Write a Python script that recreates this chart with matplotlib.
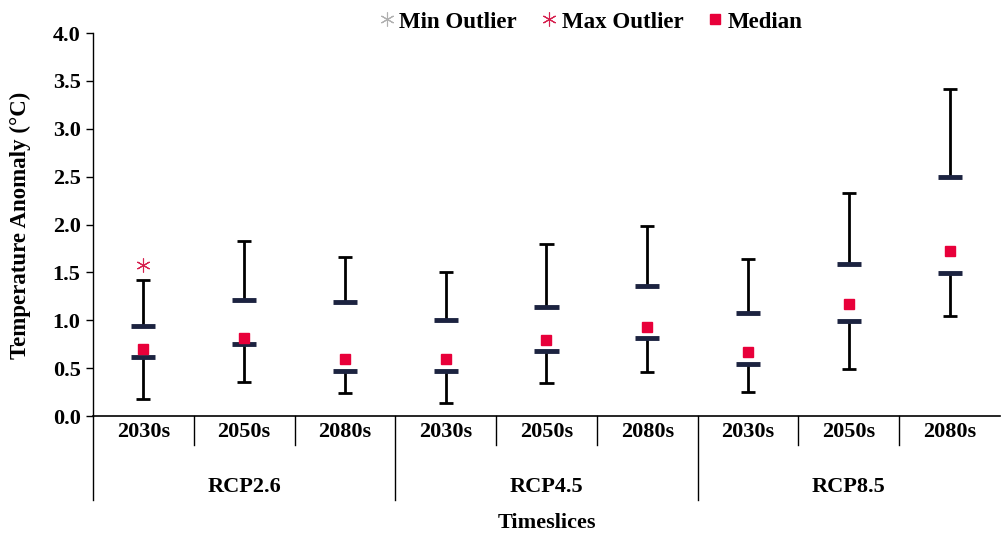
import numpy as np
import matplotlib
matplotlib.use("Agg")
import matplotlib.pyplot as plt

plt.rcParams["font.family"] = ["Liberation Serif", "DejaVu Serif"]
plt.rcParams["font.weight"] = "bold"

# data
scenarios = ["RCP2.6", "RCP4.5", "RCP8.5"]
timeslices = ["2030s", "2050s", "2080s"]
whisker_min = [0.18, 0.36, 0.24, 0.14, 0.34, 0.46, 0.25, 0.49, 1.04]
q1 = [0.62, 0.75, 0.47, 0.47, 0.68, 0.81, 0.54, 0.99, 1.49]
median = [0.70, 0.81, 0.60, 0.60, 0.79, 0.93, 0.67, 1.17, 1.72]
q3 = [0.94, 1.21, 1.19, 1.00, 1.14, 1.36, 1.08, 1.59, 2.50]
whisker_max = [1.42, 1.83, 1.66, 1.50, 1.80, 1.98, 1.64, 2.33, 3.41]
max_outlier_pos = [0]
max_outlier_val = [1.58]

NAVY = "#1c2340"
RED = "#e8003a"
FS = 16

W, H = 1003, 539
fig = plt.figure(figsize=(W / 100, H / 100), dpi=100, facecolor="white")
ax = fig.add_axes([93 / W, 1 - 416 / H, (1000 - 93) / W, (416 - 33) / H])

n = len(q1)
x = np.arange(n) + 0.5

# whiskers
ax.vlines(x, q3, whisker_max, color="black", lw=2, zorder=2)
ax.vlines(x, whisker_min, q1, color="black", lw=2, zorder=2)
ax.hlines(whisker_max, x - 0.07, x + 0.07, color="black", lw=2, zorder=2)
ax.hlines(whisker_min, x - 0.07, x + 0.07, color="black", lw=2, zorder=2)
# quartile bars
ax.hlines(q3, x - 0.12, x + 0.12, color=NAVY, lw=3.5, zorder=3)
ax.hlines(q1, x - 0.12, x + 0.12, color=NAVY, lw=3.5, zorder=3)

ax.plot(x, median, ls="none", marker="s", ms=7, color=RED, zorder=4)
ax.plot(x[max_outlier_pos], max_outlier_val, ls="none", marker=(6, 2, 0),
        ms=10, mew=0.8, color="#d6204e", zorder=4)

# legend handles
h_min, = ax.plot([], [], ls="none", marker=(6, 2, 0), ms=10, mew=0.8,
                 color="#b0b0b0", label="Min Outlier")
h_max, = ax.plot([], [], ls="none", marker=(6, 2, 0), ms=10, mew=0.8,
                 color="#d6204e", label="Max Outlier")
h_med, = ax.plot([], [], ls="none", marker="s", ms=7, color=RED, label="Median")
fig.legend(handles=[h_min, h_max, h_med], loc="center",
           bbox_to_anchor=(589 / W, 1 - 22 / H), ncol=3, frameon=False,
           handletextpad=0.05, columnspacing=0.9, handlelength=1.0,
           prop=dict(family="Liberation Serif", weight="bold", size=16.5))

ax.set_xlim(0, n)
ax.set_ylim(0, 4.0)
ticks = np.arange(0, 4.01, 0.5)
ax.set_yticks(ticks)
ax.set_yticklabels([f"{v:.1f}" for v in ticks], fontsize=FS, fontweight="bold")
ax.tick_params(axis="y", direction="out", length=5, width=1, pad=4)
ax.set_xticks([])
for s in ["top", "right"]:
    ax.spines[s].set_visible(False)
ax.spines["left"].set_linewidth(1)
ax.spines["bottom"].set_linewidth(1.2)

trans = ax.get_xaxis_transform()
labels = [t for _ in scenarios for t in timeslices]
for i, lab in enumerate(labels):
    ax.text(x[i], -0.042, lab, transform=trans, ha="center", va="center",
            fontsize=FS, fontweight="bold")
for i, sc in enumerate(scenarios):
    ax.text(i * 3 + 1.5, -0.185, sc, transform=trans, ha="center",
            va="center", fontsize=FS, fontweight="bold")
for k in range(0, n):
    bottom = -0.219 if k % 3 == 0 else -0.076
    ax.plot([k, k], [0, bottom], transform=trans, color="black", lw=1,
            clip_on=False)

ax.text(0.5, -0.28, "Timeslices", transform=ax.transAxes, ha="center",
        va="center", fontsize=FS, fontweight="bold")
fig.text(20 / W, 1 - 225 / H, "Temperature Anomaly (°C)", rotation=90,
         ha="center", va="center", fontsize=16.5, fontweight="bold")

fig.savefig("out.png", dpi=100, facecolor="white")
